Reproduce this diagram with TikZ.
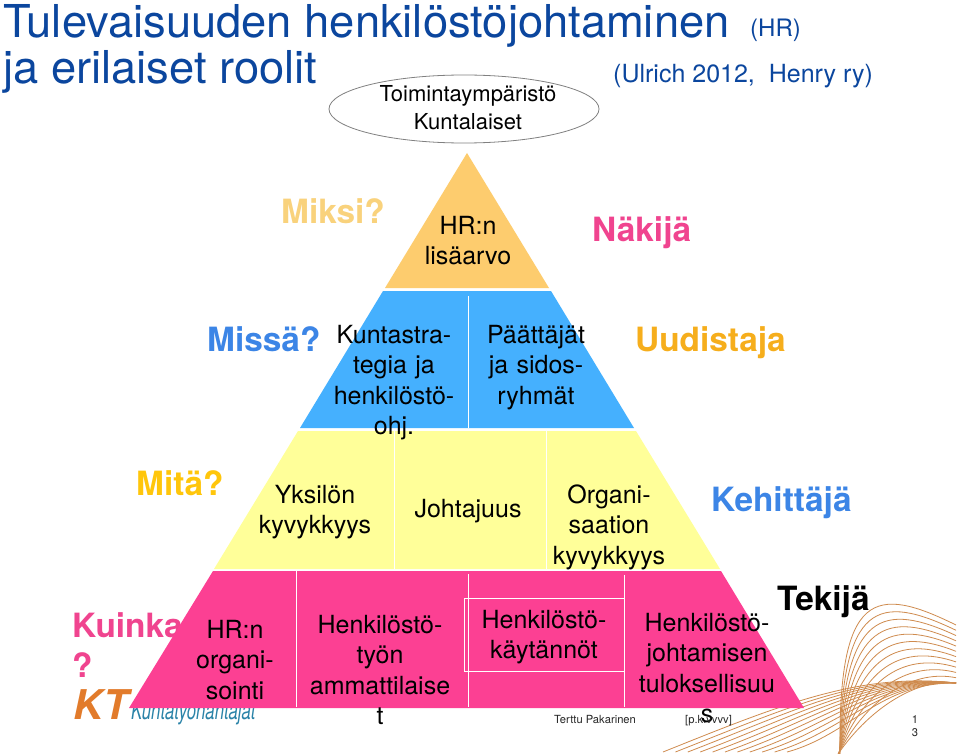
\documentclass[tikz,border=0pt]{standalone}
\usepackage{fontspec}
\usepackage{graphicx}
\setmainfont{TeX Gyre Heros}
\definecolor{titleblue}{HTML}{0B469E}
\definecolor{lorange}{HTML}{FDCC6E}
\definecolor{lblue}{HTML}{45B0FE}
\definecolor{lyellow}{HTML}{FFFF99}
\definecolor{lpink}{HTML}{FC4093}
\definecolor{qorange}{HTML}{F9D27C}
\definecolor{qpink}{HTML}{F0448F}
\definecolor{qblue}{HTML}{3C85E6}
\definecolor{qamber}{HTML}{F6AE1C}
\definecolor{qyellow}{HTML}{FFC60B}
\definecolor{curve}{HTML}{CF8B4E}
\definecolor{logoorange}{HTML}{E27B2B}
\definecolor{logoteal}{HTML}{2A83A8}
\tikzset{
  body/.style={inner sep=0pt,anchor=base,text width=220pt,align=center,font=\fontsize{25}{30.5}\selectfont,text=black},
  role/.style={inner sep=0pt,anchor=base west,font=\fontsize{33.4}{40}\selectfont\bfseries},
  small/.style={inner sep=0pt,anchor=base west,font=\fontsize{11.2}{14}\selectfont,text=black!85},
  heading/.style={inner sep=0pt,anchor=base west,text=titleblue},
  divider/.style={draw=white,line width=0.9pt},
  curveline/.style={draw=curve,line width=0.8pt}
}
\begin{document}
\begin{tikzpicture}[x=1pt,y=-1pt]
\useasboundingbox (0,0) rectangle (960,754);
\fill[white] (0,0) rectangle (960,754);
% background curves
\begin{scope}
\clip (0,0) rectangle (960,754);
\foreach \t in {0,0.0909,...,1.01}{
  \pgfmathsetmacro{\ay}{754}
  \pgfmathsetmacro{\ax}{840-2*\t}
  \pgfmathsetmacro{\bx}{838+34*\t}
  \pgfmathsetmacro{\by}{590+115*\t}
  \pgfmathsetmacro{\cx}{875+45*\t}
  \pgfmathsetmacro{\cy}{585+93*\t}
  \pgfmathsetmacro{\dy}{625+58*\t}
  \draw[curveline] (\ax,\ay) .. controls (\bx,\by) and (\cx,\cy) .. (956,\dy);
}
\foreach \t in {0,0.1,...,1.01}{
  \pgfmathsetmacro{\ax}{663+124*\t}
  \pgfmathsetmacro{\bx}{780+70*\t}
  \pgfmathsetmacro{\by}{705+30*\t}
  \pgfmathsetmacro{\cx}{860+20*\t}
  \pgfmathsetmacro{\cy}{672+10*\t}
  \draw[curveline] (\ax,752) .. controls (\bx,\by) and (\cx,\cy) .. (956,683);
}
\end{scope}
% logo
\node[inner sep=0pt,anchor=base west,font=\fontsize{41}{41}\selectfont\bfseries\itshape,text=logoorange] (kt) at (73,719) {KT};
\node[inner sep=0pt,anchor=base west,font=\fontsize{25}{26}\selectfont\itshape,text=logoteal] (kta) at (131,719.5) {\scalebox{0.67}[1]{Kuntatyönantajat}};
% question behind pyramid
\node[role,text=qpink,align=left] (kuinka) at (72,637) {Kuinka};
\node[role,text=qpink] (kuinkaq) at (72,677) {?};
% pyramid
\fill[lorange] (467,153) -- (549,288) -- (385,288) -- cycle;
\fill[lblue] (383,291) -- (551,291) -- (634,428) -- (300,428) -- cycle;
\fill[lyellow] (298,431) -- (636,431) -- (720,569) -- (214,569) -- cycle;
\fill[lpink] (213,571) -- (721,571) -- (804,708) -- (129,708) -- cycle;
% dividers
\draw[divider] (468,296) -- (468,428);
\draw[divider] (394,431) -- (394,569);
\draw[divider] (546,431) -- (546,569);
\draw[divider] (296,571) -- (296,707);
\draw[divider] (468,574) -- (468,707);
\draw[divider] (624,575) -- (624,707);
\draw[divider] (464,598) rectangle (624,671);
% ellipse
\draw[draw=black!50,line width=0.8pt] (464,109) ellipse [x radius=135,y radius=34];
\node[inner sep=0pt,anchor=base,text width=220pt,align=center,font=\fontsize{22}{28}\selectfont] (env) at (468,102) {Toimintaympäristö\\Kuntalaiset};
% title
\node[heading,font=\fontsize{45.3}{45}\selectfont] (t1) at (3,37.5) {Tulevaisuuden henkilöstöjohtaminen};
\node[heading,font=\fontsize{45.3}{45}\selectfont] (t2) at (3,83.5) {ja erilaiset roolit};
\node[heading,font=\fontsize{24}{24}\selectfont] (t3) at (750,37) {(HR)};
\node[heading,font=\fontsize{25}{25}\selectfont] (t4) at (613,83) {(Ulrich 2012,\ \ Henry ry)};
% roles and questions
\node[role,text=qorange] (miksi) at (281,223) {Miksi?};
\node[role,text=qpink] (nakija) at (592,241) {Näkijä};
\node[role,text=qblue] (missa) at (207,351) {Missä?};
\node[role,text=qamber] (uudistaja) at (635,351) {Uudistaja};
\node[role,text=qyellow] (mita) at (136,495) {Mitä?};
\node[role,text=qblue] (kehittaja) at (711,511) {Kehittäjä};
\node[role,text=black] (tekija) at (777,610) {Tekijä};
% body text
\node[body] (hr) at (468,234) {HR:n\\lisäarvo};
\node[body] (ks) at (394,343) {Kuntastra-\\tegia ja\\henkilöstö-\\ohj.};
\node[body] (pj) at (536,343) {Päättäjät\\ja sidos-\\ryhmät};
\node[body] (yk) at (315,503) {Yksilön\\kyvykkyys};
\node[body] (jo) at (468,517) {Johtajuus};
\node[body] (ok) at (609,503) {Organi-\\saation\\kyvykkyys};
\node[body] (ho) at (235,638) {HR:n\\organi-\\sointi};
\node[body] (ha) at (380,633) {Henkilöstö-\\työn\\ammattilaise\\t};
\node[body] (hk) at (544,628) {Henkilöstö-\\käytännöt};
\node[body] (ht) at (707,631) {Henkilöstö-\\johtamisen\\tuloksellisuu\\s};
% footer
\node[small] (au) at (554,723) {Terttu Pakarinen};
\node[small] (da) at (685,723) {[p.k.vvvv]};
\node[inner sep=0pt,anchor=base,text width=30pt,align=center,font=\fontsize{11.2}{13.5}\selectfont,text=black!85] (pg) at (915,723) {1\\3};
\end{tikzpicture}
\end{document}
